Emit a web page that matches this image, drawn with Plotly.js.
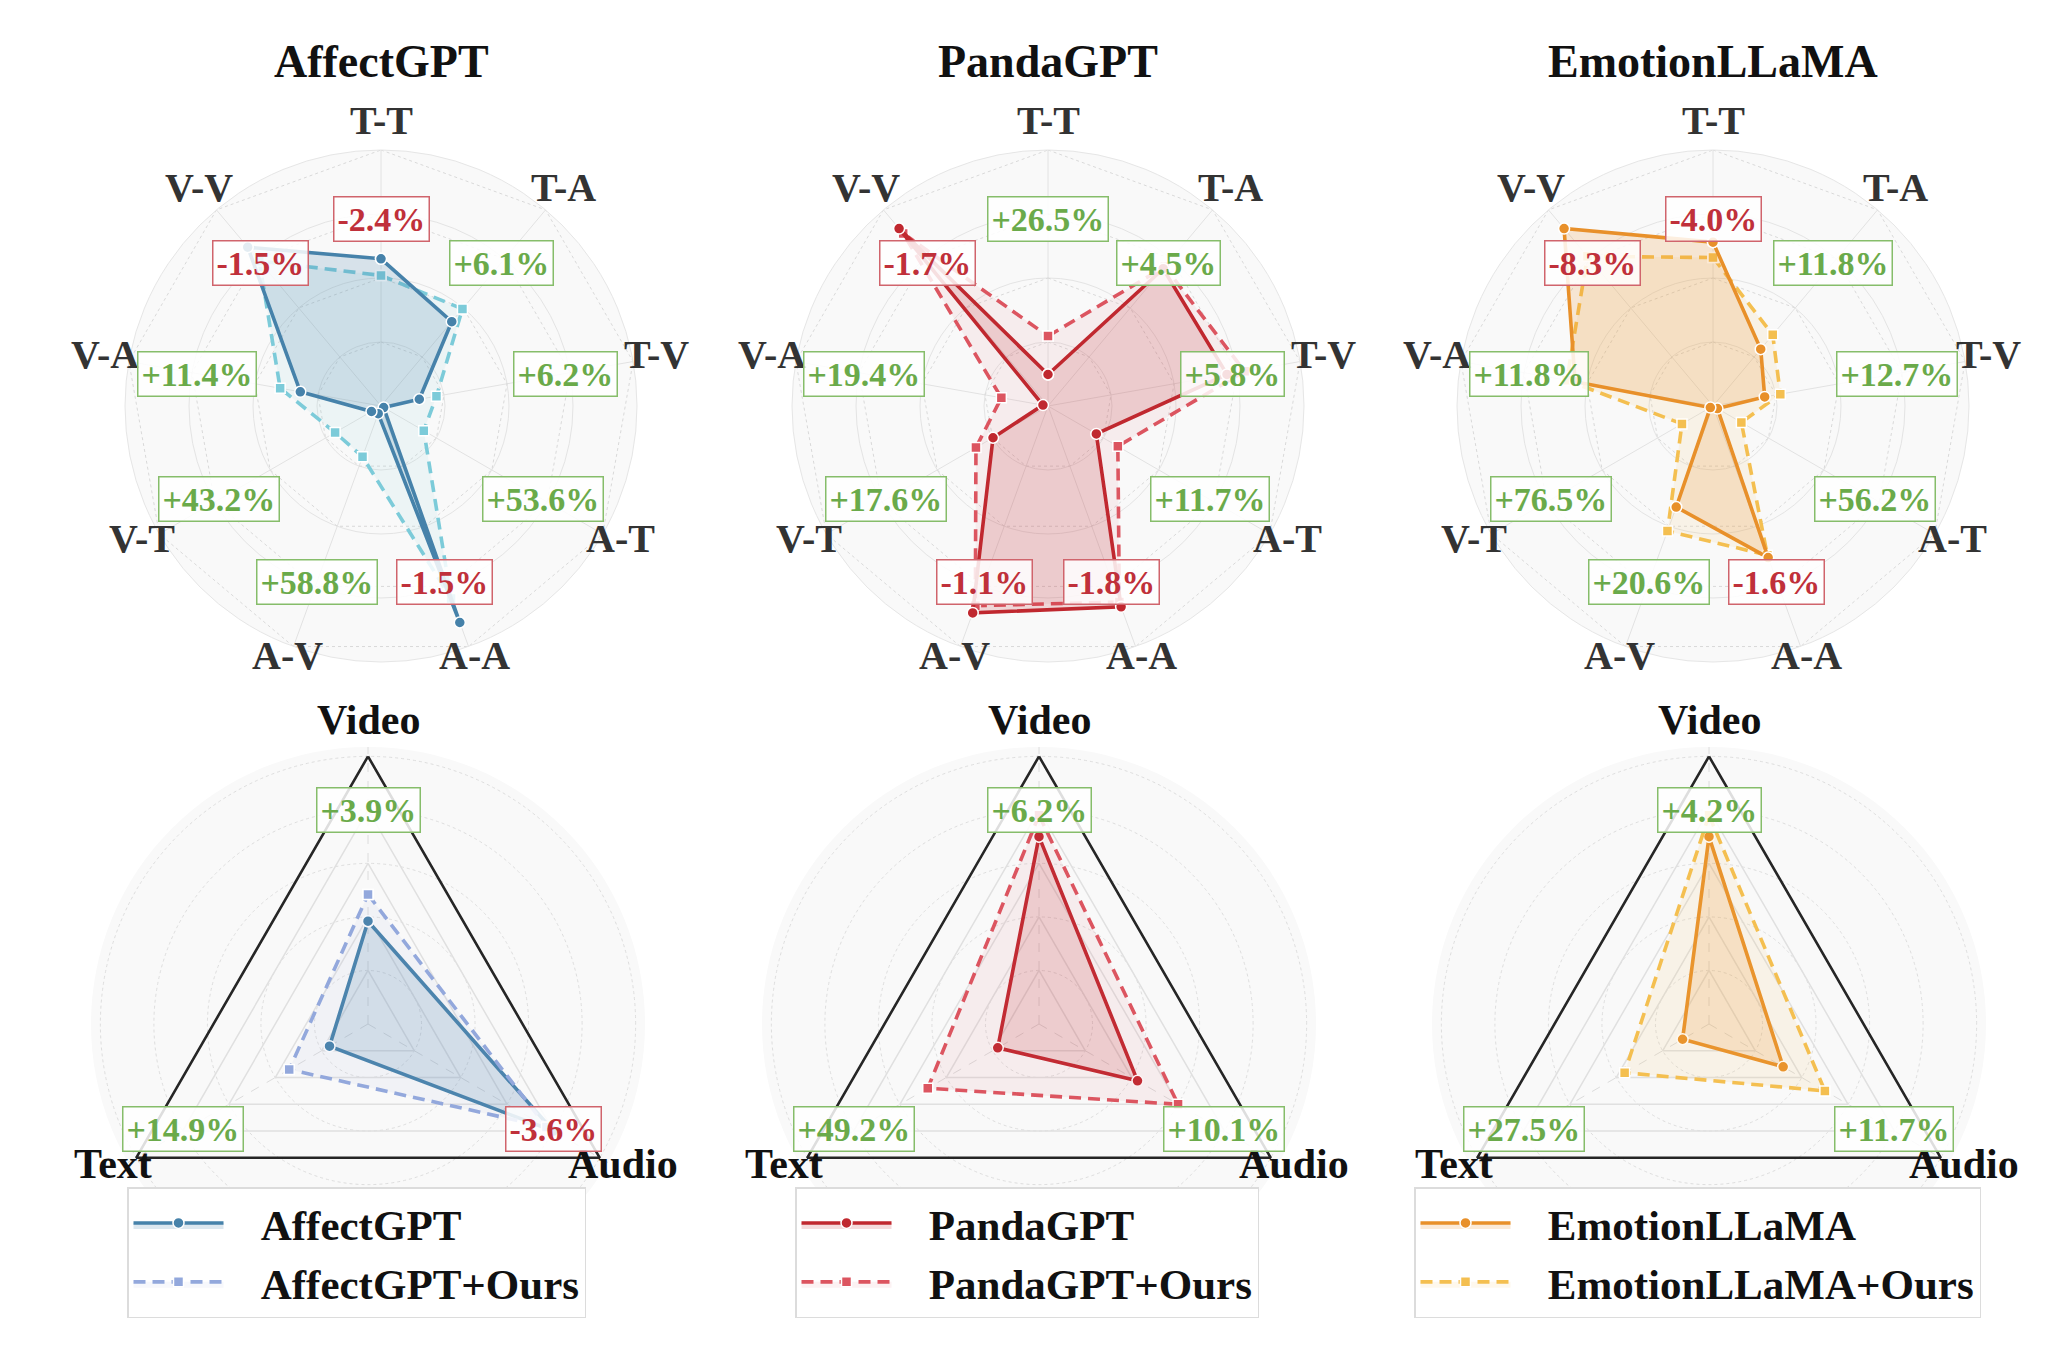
<!DOCTYPE html>
<html>
<head>
<meta charset="utf-8">
<script src="https://cdn.plot.ly/plotly-3.0.1.min.js"></script>
<style>
  html, body { margin: 0; padding: 0; background: #fff; }
  #chart { width: 2058px; height: 1368px; }
</style>
</head>
<body>
<div id="chart"></div>
<script>
// ---- data (radius as fraction of the outer ring) ----
const pairCats = ['T-T', 'T-A', 'T-V', 'A-T', 'A-A', 'A-V', 'V-T', 'V-A', 'V-V'];
const modCats = ['Video', 'Audio', 'Text'];
const models = ['AffectGPT', 'PandaGPT', 'EmotionLLaMA'];

const affectPairBase = [0.575, 0.43, 0.152, 0.012, 0.90, 0.032, 0.043, 0.32, 0.81];
const affectPairOurs = [0.51, 0.495, 0.22, 0.193, 0.80, 0.211, 0.207, 0.40, 0.74];
const pandaPairBase = [0.123, 0.70, 0.71, 0.218, 0.835, 0.86, 0.248, 0.02, 0.905];
const pandaPairOurs = [0.273, 0.71, 0.78, 0.315, 0.815, 0.83, 0.325, 0.185, 0.88];
const emotionPairBase = [0.64, 0.29, 0.205, 0.02, 0.63, 0.42, 0.012, 0.547, 0.905];
const emotionPairOurs = [0.58, 0.363, 0.267, 0.128, 0.62, 0.52, 0.14, 0.58, 0.763];

const affectPairGain = ['-2.4%', '+6.1%', '+6.2%', '+53.6%', '-1.5%', '+58.8%', '+43.2%', '+11.4%', '-1.5%'];
const pandaPairGain = ['+26.5%', '+4.5%', '+5.8%', '+11.7%', '-1.8%', '-1.1%', '+17.6%', '+19.4%', '-1.7%'];
const emotionPairGain = ['-4.0%', '+11.8%', '+12.7%', '+56.2%', '-1.6%', '+20.6%', '+76.5%', '+11.8%', '-8.3%'];

const affectModBase = [0.384, 0.80, 0.166];
const affectModOurs = [0.484, 0.77, 0.34];
const pandaModBase = [0.70, 0.425, 0.178];
const pandaModOurs = [0.78, 0.60, 0.48];
const emotionModBase = [0.70, 0.32, 0.114];
const emotionModOurs = [0.78, 0.50, 0.364];

const affectModGain = ['+3.9%', '-3.6%', '+14.9%'];
const pandaModGain = ['+6.2%', '+10.1%', '+49.2%'];
const emotionModGain = ['+4.2%', '+11.7%', '+27.5%'];

const pairRings = [0.25, 0.5, 0.75, 1.0];
const modRings = [0.2, 0.4, 0.6, 0.8];

// ---- styling ----
const W = 2058, H = 1368;
const SERIF = '"Liberation Serif", "Times New Roman", serif';
const topCx = [381, 1048, 1713], topCy = 406, topR = 256;
const botCx = [368, 1039, 1709], botCy = 1024, botR = 277, botMax = 1.035;
const NB = '\u00a0\u00a0\u00a0';

const palette = [
  { base: '#4682aa', baseFill: 'rgba(70,130,170,0.19)', oursTop: '#7ccbd9', oursTopFill: 'rgba(124,203,217,0.1)',
    oursBot: '#93a8dc', oursBotFill: 'rgba(147,168,220,0.08)' },
  { base: '#c0282f', baseFill: 'rgba(192,40,47,0.17)', oursTop: '#dc5560', oursTopFill: 'rgba(220,85,96,0.08)',
    oursBot: '#dc5560', oursBotFill: 'rgba(220,85,96,0.08)' },
  { base: '#e8902a', baseFill: 'rgba(232,144,42,0.19)', oursTop: '#f4bf50', oursTopFill: 'rgba(244,191,80,0.1)',
    oursBot: '#f4bf50', oursBotFill: 'rgba(244,191,80,0.1)' }
];

const pairSets = [
  [affectPairBase, affectPairOurs, affectPairGain],
  [pandaPairBase, pandaPairOurs, pandaPairGain],
  [emotionPairBase, emotionPairOurs, emotionPairGain]
];
const modSets = [
  [affectModBase, affectModOurs, affectModGain],
  [pandaModBase, pandaModOurs, pandaModGain],
  [emotionModBase, emotionModOurs, emotionModGain]
];

function closed(a) { return a.concat([a[0]]); }

function polyTrace(sub, cats, level, color, width, dash) {
  return {
    type: 'scatterpolar', subplot: sub, mode: 'lines',
    r: closed(cats.map(() => level)), theta: closed(cats),
    line: { color: color, width: width, dash: dash },
    hoverinfo: 'skip', showlegend: false
  };
}

function seriesTrace(sub, cats, vals, opts) {
  return {
    type: 'scatterpolar', subplot: sub, mode: 'lines+markers',
    name: NB + opts.name, r: closed(vals), theta: closed(cats),
    fill: 'toself', fillcolor: opts.fill,
    line: { color: opts.color, width: 3.6, dash: opts.dash },
    marker: { symbol: opts.symbol, size: opts.size, color: opts.color, line: { color: '#fff', width: 1.5 } },
    showlegend: !!opts.legend, legend: opts.legend || 'legend'
  };
}

// point at angle deg (clockwise from top) and pixel radius rad around (cx, cy), in paper units;
// lift lets labels below the centre sit a little closer to the ring
function paperAt(cx, cy, rad, deg, lift) {
  const a = deg * Math.PI / 180;
  const up = (lift || 0) * (1 - Math.cos(a));
  return { x: (cx + rad * Math.sin(a)) / W, y: 1 - (cy - rad * Math.cos(a) - up) / H };
}

function axisLabel(txt, p, size, color) {
  return {
    xref: 'paper', yref: 'paper', showarrow: false, x: p.x, y: p.y,
    xanchor: 'center', yanchor: 'middle', text: txt,
    font: { family: SERIF, size: size, weight: 'bold', color: color }
  };
}

function gainBox(txt, p) {
  const neg = txt.charAt(0) === '-';
  return {
    xref: 'paper', yref: 'paper', showarrow: false, x: p.x, y: p.y,
    xanchor: 'center', yanchor: 'middle', text: txt,
    font: { family: SERIF, size: 34, weight: 'bold', color: neg ? '#c0303a' : '#6aaa4a' },
    bgcolor: 'rgba(255,255,255,0.85)', bordercolor: neg ? '#d0646c' : '#86bd6a',
    borderwidth: 1.5, borderpad: 3
  };
}

const data = [];
const layout = {
  width: W, height: H, margin: { l: 0, r: 0, t: 0, b: 0 },
  paper_bgcolor: '#fff', showlegend: true, annotations: []
};
const legendKeys = ['legend', 'legend2', 'legend3'];
const legendX = [127, 795, 1414];

models.forEach(function (m, k) {
  const c = palette[k];
  const top = 'polar' + (k === 0 ? '' : k + 1);
  const bot = 'polar' + (k + 4);

  layout[top] = {
    domain: { x: [(topCx[k] - topR) / W, (topCx[k] + topR) / W], y: [1 - (topCy + topR) / H, 1 - (topCy - topR) / H] },
    bgcolor: '#f9f9f9',
    radialaxis: { range: [0, 1], tick0: 0, dtick: 0.25, showticklabels: false, ticks: '', showline: false,
      gridcolor: '#e4e4e4', gridwidth: 1 },
    angularaxis: { type: 'category', categoryarray: pairCats, rotation: 90, direction: 'clockwise',
      showticklabels: false, ticks: '', gridcolor: '#e2e2e2', gridwidth: 1, showline: true, linecolor: '#e6e6e6', linewidth: 1 }
  };
  layout[bot] = {
    domain: { x: [(botCx[k] - botR) / W, (botCx[k] + botR) / W], y: [1 - (botCy + botR) / H, 1 - (botCy - botR) / H] },
    bgcolor: '#f9f9f9',
    radialaxis: { range: [0, botMax], tick0: 0, dtick: 0.2, showticklabels: false, ticks: '', showline: false,
      gridcolor: '#dedede', gridwidth: 1, griddash: 'dot' },
    angularaxis: { type: 'category', categoryarray: modCats, rotation: 90, direction: 'clockwise',
      showticklabels: false, ticks: '', gridcolor: '#dcdcdc', gridwidth: 1, griddash: 'dash', showline: false }
  };

  // top: nine cross-modal pairs
  pairRings.forEach(function (lv) { data.push(polyTrace(top, pairCats, lv, '#d9d9d9', 1, 'dot')); });
  const ps = pairSets[k];
  data.push(seriesTrace(top, pairCats, ps[1], { name: m + '+Ours', color: c.oursTop, fill: c.oursTopFill, dash: '12px,7px', symbol: 'square', size: 10 }));
  data.push(seriesTrace(top, pairCats, ps[0], { name: m, color: c.base, fill: c.baseFill, dash: 'solid', symbol: 'circle', size: 11 }));
  pairCats.forEach(function (cat, i) {
    const deg = i * 40;
    layout.annotations.push(axisLabel(cat, paperAt(topCx[k], topCy, 279 + 6 * Math.cos(deg * Math.PI / 180), deg, 4), 40, '#333333'));
  });
  ps[2].forEach(function (g, i) { layout.annotations.push(gainBox(g, paperAt(topCx[k], topCy, 0.73 * topR, i * 40))); });

  // bottom: three modalities
  modRings.forEach(function (lv) { data.push(polyTrace(bot, modCats, lv, '#e0e0e0', 1.5, 'solid')); });
  data.push(polyTrace(bot, modCats, 1.0, '#262626', 2.6, 'solid'));
  const ms = modSets[k];
  data.push(seriesTrace(bot, modCats, ms[0], { name: m, color: c.base, fill: c.baseFill, dash: 'solid', symbol: 'circle', size: 11, legend: legendKeys[k] }));
  data.push(seriesTrace(bot, modCats, ms[1], { name: m + '+Ours', color: c.oursBot, fill: c.oursBotFill, dash: '12px,7px', symbol: 'square', size: 10, legend: legendKeys[k] }));
  const unit = botR / botMax;
  modCats.forEach(function (cat, i) {
    const deg = i * 120;
    layout.annotations.push(axisLabel(cat, paperAt(botCx[k], botCy, 298 + 6.5 * Math.cos(deg * Math.PI / 180), deg, 5), 42, '#111111'));
  });
  ms[2].forEach(function (g, i) { layout.annotations.push(gainBox(g, paperAt(botCx[k], botCy, 0.8 * unit, i * 120, 1.5))); });

  layout.annotations.push({
    xref: 'paper', yref: 'paper', showarrow: false, x: topCx[k] / W, y: 1 - 61 / H,
    xanchor: 'center', yanchor: 'middle', text: m,
    font: { family: SERIF, size: 46, weight: 'bold', color: '#111' }
  });

  layout[legendKeys[k]] = {
    x: legendX[k] / W, y: 1 - 1187 / H, xanchor: 'left', yanchor: 'top',
    bgcolor: '#ffffff', bordercolor: '#dcdcdc', borderwidth: 1.5,
    font: { family: SERIF, size: 43, weight: 'bold', color: '#111' },
    itemwidth: 90, tracegroupgap: 0, traceorder: 'normal'
  };
});

Plotly.newPlot('chart', data, layout, { staticPlot: true, displayModeBar: false });
</script>
</body>
</html>
